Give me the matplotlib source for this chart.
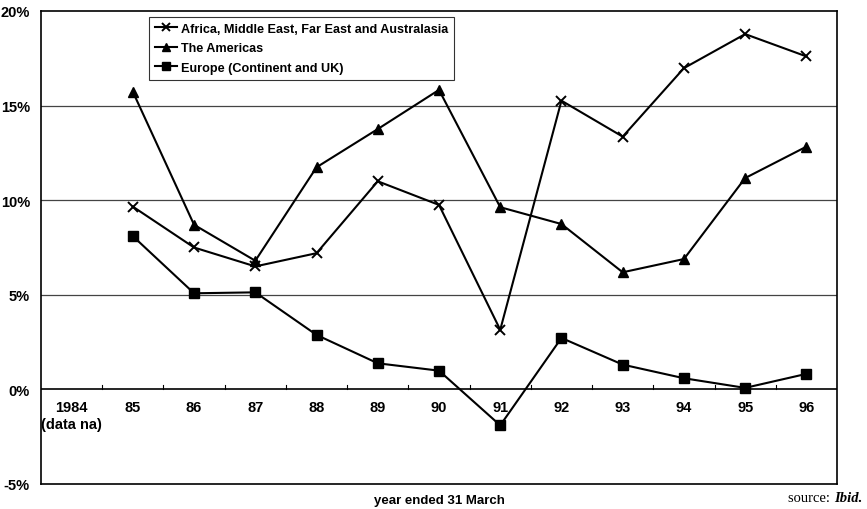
import matplotlib
matplotlib.use("Agg")
import matplotlib.pyplot as plt
from matplotlib.ticker import FuncFormatter

years = ["1984\n(data na)", "85", "86", "87", "88", "89", "90", "91", "92", "93", "94", "95", "96"]
africa = [None, 9.66, 7.5, 6.5, 7.2, 11.0, 9.75, 3.15, 15.26, 13.36, 16.98, 18.78, 17.6]
americas = [None, 15.73, 8.7, 6.8, 11.74, 13.76, 15.83, 9.63, 8.74, 6.19, 6.89, 11.17, 12.83]
europe = [None, 8.1, 5.08, 5.13, 2.88, 1.38, 0.99, -1.9, 2.72, 1.31, 0.59, 0.08, 0.82]

plt.rcParams['font.family'] = ['Liberation Sans', 'DejaVu Sans']

fig = plt.figure(figsize=(8.67, 5.10), dpi=100)
ax = fig.add_axes([41 / 867, 25 / 510, 796 / 867, 473 / 510])

x = list(range(len(years)))
ax.plot(x, africa, color='black', lw=1.5, marker='x', ms=7, mew=1.4,
        label='Africa, Middle East, Far East and Australasia', zorder=3)
ax.plot(x, americas, color='black', lw=1.5, marker='^', ms=7,
        label='The Americas', zorder=3)
ax.plot(x, europe, color='black', lw=1.5, marker='s', ms=6.5,
        label='Europe (Continent and UK)', zorder=3)

ax.set_xlim(-0.5, len(years) - 0.5)
ax.set_ylim(-5, 20)
ax.set_yticks([-5, 0, 5, 10, 15, 20])
ax.yaxis.set_major_formatter(FuncFormatter(lambda v, p: "%d%%" % v))
for lbl in ax.get_yticklabels():
    lbl.set_fontweight('bold')
    lbl.set_fontsize(10.5)
ax.tick_params(axis='y', length=0, pad=8)

for g in [5, 10, 15]:
    ax.axhline(g, color='#444444', lw=0.9, zorder=1)
ax.axhline(0, color='black', lw=1.2, zorder=2)

# category boundary ticks on the zero line
ax.set_xticks([])
for b in range(1, len(years)):
    ax.plot([b - 0.5, b - 0.5], [0, 0.25], color='black', lw=0.8, zorder=2)

for i, name in enumerate(years):
    ax.text(i, -0.55, name, ha='center', va='top', fontsize=10.5,
            fontweight='bold', linespacing=1.3, multialignment='center')

for s in ax.spines.values():
    s.set_linewidth(1.2)

leg = ax.legend(loc='upper left', bbox_to_anchor=(108 / 796, 1 - 6 / 473),
                fontsize=9.1, frameon=True, fancybox=False, handlelength=1.8,
                handletextpad=0.3, borderpad=0.45, labelspacing=0.6,
                borderaxespad=0, markerscale=0.85)
leg.get_frame().set_edgecolor('black')
leg.get_frame().set_linewidth(0.8)
for t in leg.get_texts():
    t.set_fontweight('bold')

fig.text(439 / 867, 1 - 501 / 510, "year ended 31 March", ha='center',
         va='center', fontsize=9.5, fontweight='bold')
fig.text(862 / 867, 1 - 499 / 510, "source: ", ha='right', va='center',
         fontsize=10.5, family='Liberation Serif')
src = fig.text(862 / 867, 1 - 499 / 510, "Ibid.", ha='right', va='center',
               fontsize=10.5, family='Liberation Serif', style='italic',
               fontweight='bold')
fig.canvas.draw()
bb = src.get_window_extent()
fig.texts[-2].set_x(bb.x0 / fig.bbox.width)

fig.savefig("out.png", dpi=100)
